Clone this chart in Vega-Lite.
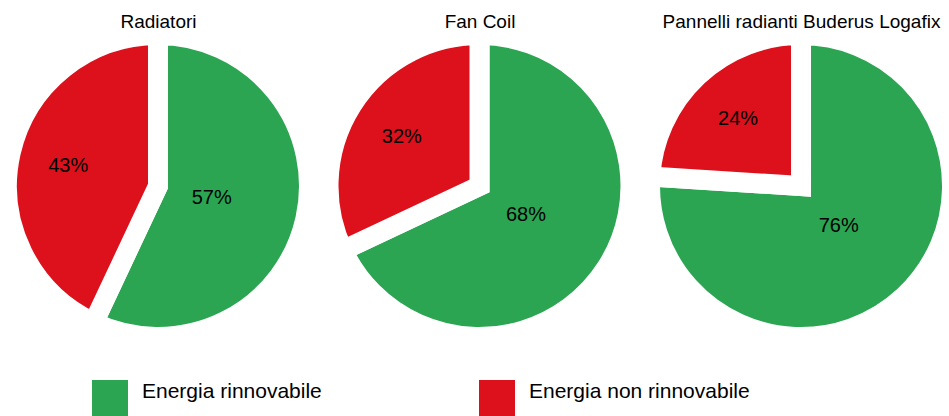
{
  "$schema": "https://vega.github.io/schema/vega-lite/v6.json",
  "autosize": {"type": "none"},
  "width": 939,
  "height": 290,
  "padding": {"left": 10, "top": 41, "right": 0, "bottom": 85},
  "background": "white",
  "data": {"values": [
    {"sistema": "Radiatori", "tipo": "Energia rinnovabile", "quota": 0.57},
    {"sistema": "Radiatori", "tipo": "Energia non rinnovabile", "quota": 0.43},
    {"sistema": "Fan Coil", "tipo": "Energia rinnovabile", "quota": 0.68},
    {"sistema": "Fan Coil", "tipo": "Energia non rinnovabile", "quota": 0.32},
    {"sistema": "Pannelli radianti Buderus Logafix", "tipo": "Energia rinnovabile", "quota": 0.76},
    {"sistema": "Pannelli radianti Buderus Logafix", "tipo": "Energia non rinnovabile", "quota": 0.24}
  ]},
  "transform": [
    {"stack": "quota", "groupby": ["sistema"], "sort": [{"field": "tipo", "order": "descending"}], "as": ["q0", "q1"]}
  ],
  "encoding": {
    "x": {
      "field": "sistema", "type": "nominal",
      "sort": ["Radiatori", "Fan Coil", "Pannelli radianti Buderus Logafix"],
      "scale": {"type": "point", "padding": 0.4603},
      "axis": {"orient": "top", "title": null, "ticks": false, "domain": false, "grid": false, "labelAngle": 0, "zindex": 1,
               "labelFontSize": 19, "labelFont": "Liberation Sans", "labelColor": "black", "labelPadding": 10, "labelLimit": 400}
    }
  },
  "layer": [
    {
      "mark": {"type": "arc", "radius": 151, "stroke": "white", "strokeWidth": 20, "strokeJoin": "miter"},
      "encoding": {
        "theta": {"field": "q0", "type": "quantitative", "scale": {"domain": [0, 1]}},
        "theta2": {"field": "q1"},
        "color": {
          "field": "tipo", "type": "nominal",
          "sort": ["Energia rinnovabile", "Energia non rinnovabile"],
          "scale": {"domain": ["Energia rinnovabile", "Energia non rinnovabile"], "range": ["#2ca552", "#dc111c"]},
          "legend": {
            "title": null, "orient": "none", "legendX": 82, "legendY": 339, "direction": "horizontal",
            "symbolType": "square", "symbolSize": 1296, "symbolStrokeWidth": 0, "symbolOpacity": 1,
            "labelFontSize": 21, "labelFont": "Liberation Sans", "labelColor": "black",
            "labelOffset": 14, "columnPadding": 157, "labelBaseline": "alphabetic", "labelLimit": 400
          }
        }
      }
    },
    {
      "transform": [{"calculate": "(datum.q0 + datum.q1) / 2", "as": "q_mid"}],
      "mark": {"type": "text", "fontSize": 20, "font": "Liberation Sans", "color": "black"},
      "encoding": {
        "theta": {"field": "q_mid", "type": "quantitative", "scale": {"domain": [0, 1]}},
        "radius": {"field": "tipo", "type": "nominal", "scale": {"domain": ["Energia rinnovabile", "Energia non rinnovabile"], "range": [55, 92]}},
        "text": {"field": "quota", "type": "quantitative", "format": ".0%"}
      }
    }
  ],
  "config": {"view": {"stroke": null}}
}
